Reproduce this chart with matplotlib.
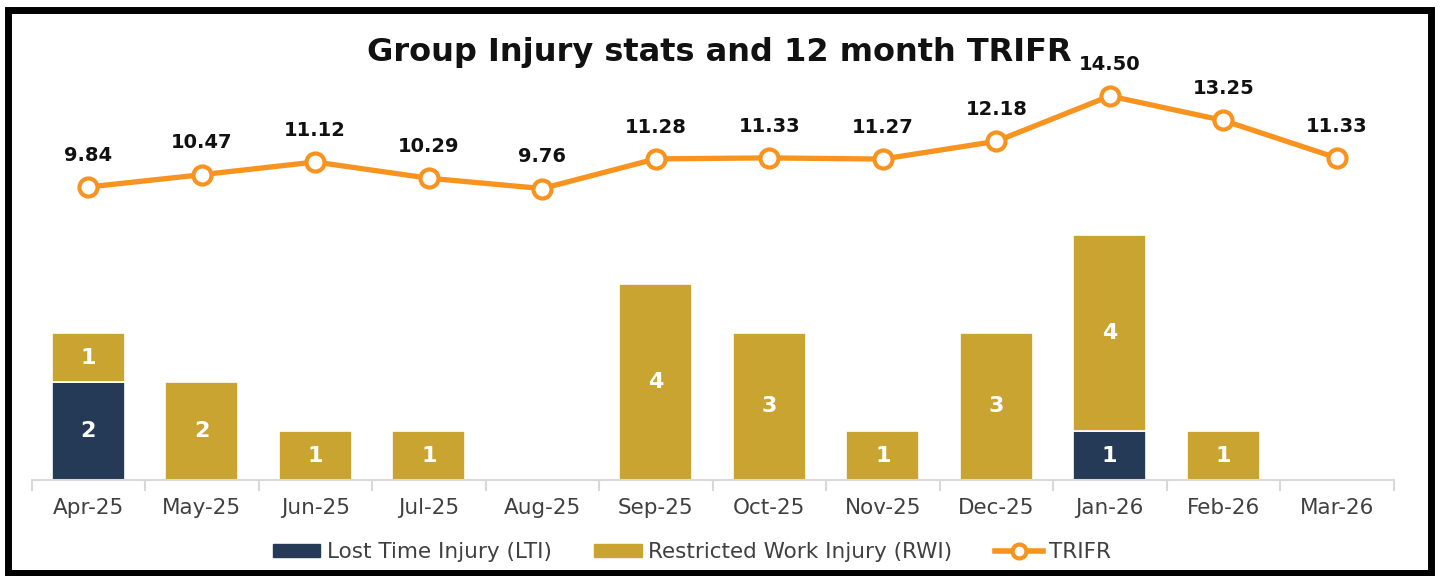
import matplotlib
matplotlib.use("Agg")
import matplotlib.pyplot as plt
from matplotlib.patches import Patch
from matplotlib.lines import Line2D
import numpy as np

months = ["Apr-25", "May-25", "Jun-25", "Jul-25", "Aug-25", "Sep-25",
          "Oct-25", "Nov-25", "Dec-25", "Jan-26", "Feb-26", "Mar-26"]
lti = [2, 0, 0, 0, 0, 0, 0, 0, 0, 1, 0, 0]
rwi = [1, 2, 1, 1, 0, 4, 3, 1, 3, 4, 1, 0]
trifr = [9.84, 10.47, 11.12, 10.29, 9.76, 11.28, 11.33, 11.27, 12.18, 14.50, 13.25, 11.33]

C_LTI = "#243A56"
C_RWI = "#C9A431"
C_LINE = "#F7931E"
C_TICK = "#404040"

W, H = 1440, 576
fig = plt.figure(figsize=(W / 100, H / 100), dpi=100)
fig.patch.set_facecolor("white")

# outer border
border = fig.add_axes([0, 0, 1, 1], zorder=-5)
border.set_xlim(0, W); border.set_ylim(H, 0); border.axis("off")
border.add_patch(plt.Rectangle((8, 10), 1423, 563, fill=False, lw=5, ec="black"))

left_px, right_px = 31.5, 1393.5
bot_px, top_px = 480, 60
ax = fig.add_axes([left_px / W, (H - bot_px) / H, (right_px - left_px) / W, (bot_px - top_px) / H])
ax.patch.set_alpha(0)

x = np.arange(len(months))
ax.bar(x, lti, width=0.64, color=C_LTI, edgecolor="white", linewidth=1.2, zorder=2)
ax.bar(x, rwi, width=0.64, bottom=lti, color=C_RWI, edgecolor="white", linewidth=1.2, zorder=2)

for i in range(len(months)):
    if lti[i] > 0:
        ax.text(x[i], lti[i] / 2, str(lti[i]), ha="center", va="center", color="white",
                fontsize=16, fontweight="bold", zorder=3)
    if rwi[i] > 0:
        ax.text(x[i], lti[i] + rwi[i] / 2, str(rwi[i]), ha="center", va="center", color="white",
                fontsize=16, fontweight="bold", zorder=3)

px_per_bar = 49.0
ax.set_ylim(0, (bot_px - top_px) / px_per_bar)
ax.set_xlim(-0.5, len(months) - 0.5)
ax.set_yticks([])
for s in ["top", "right", "left"]:
    ax.spines[s].set_visible(False)
ax.spines["bottom"].set_color("#D9D9D9")
ax.spines["bottom"].set_linewidth(1.5)
ax.set_xticks(x)
ax.set_xticklabels(months, fontsize=15.5, color=C_TICK)
ax.tick_params(axis="x", which="major", length=0, pad=13)
ax.set_xticks(np.arange(-0.5, len(months), 1), minor=True)
ax.tick_params(axis="x", which="minor", length=8, width=1.5, color="#D9D9D9")

ax2 = ax.twinx()
px_per_line = 19.53
vmin = 9.84 - (bot_px - 187) / px_per_line
vmax = vmin + (bot_px - top_px) / px_per_line
ax2.set_ylim(vmin, vmax)
ax2.plot(x, trifr, color=C_LINE, lw=3.8, marker="o", ms=13, mfc="white", mec=C_LINE, mew=3,
         zorder=4, solid_capstyle="round")
ax2.axis("off")
for i, v in enumerate(trifr):
    ax2.annotate(f"{v:.2f}", (x[i], v), xytext=(0, 16), textcoords="offset points",
                 ha="center", va="bottom", fontsize=14, fontweight="bold", color="#111111")

fig.text(719 / W, 1 - 53 / H, "Group Injury stats and 12 month TRIFR", ha="center", va="center",
         fontsize=23, fontweight="bold", color="#111111")

handles = [Patch(color=C_LTI, label="Lost Time Injury (LTI)"),
           Patch(color=C_RWI, label="Restricted Work Injury (RWI)"),
           Line2D([], [], color=C_LINE, lw=4, marker="o", ms=10, mfc="white", mec=C_LINE, mew=3,
                  label="TRIFR")]
fig.legend(handles=handles, loc="center", bbox_to_anchor=(692 / W, 1 - 552 / H), ncol=3,
           frameon=False, fontsize=15.5, labelcolor=C_TICK, handlelength=2.2, handleheight=0.6,
           columnspacing=2.0, handletextpad=0.3)

fig.savefig("out.png", dpi=100, facecolor="white")
